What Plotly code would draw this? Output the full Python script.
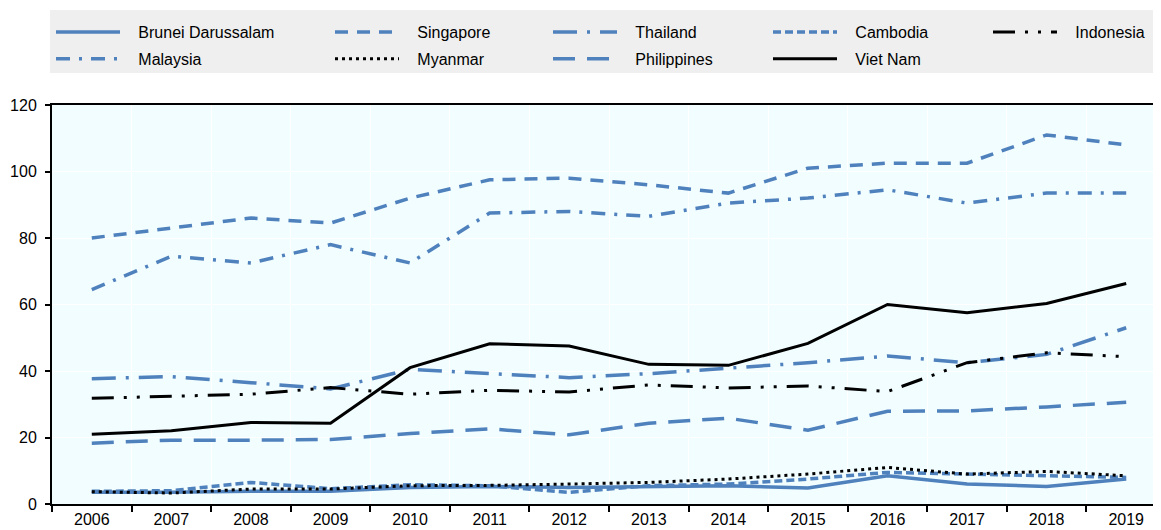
import plotly.graph_objects as go

years = [str(y) for y in range(2006, 2020)]

brunei = [3.5, 3.5, 3.8, 3.8, 5.0, 5.3, 5.0, 5.3, 5.5, 4.8, 8.5, 6.0, 5.3, 7.5]
malaysia = [64.5, 74.5, 72.5, 78.0, 72.5, 87.5, 88.0, 86.5, 90.5, 92.0, 94.5, 90.5, 93.5, 93.5]
singapore = [80.0, 83.0, 86.0, 84.5, 92.0, 97.5, 98.0, 96.0, 93.5, 101.0, 102.5, 102.5, 111.0, 108.0]
myanmar = [3.7, 3.3, 4.5, 4.5, 5.5, 5.6, 6.0, 6.5, 7.5, 9.0, 11.0, 9.0, 9.8, 8.5]
thailand = [37.7, 38.3, 36.5, 34.6, 40.5, 39.3, 38.0, 39.2, 40.8, 42.5, 44.5, 42.5, 45.0, 53.0]
philippines = [18.3, 19.2, 19.2, 19.4, 21.2, 22.6, 20.8, 24.3, 25.8, 22.2, 27.9, 28.0, 29.2, 30.6]
cambodia = [3.8, 4.0, 6.5, 4.6, 5.8, 5.5, 3.5, 5.5, 6.0, 7.5, 9.5, 9.0, 8.5, 8.0]
vietnam = [21.0, 22.0, 24.5, 24.3, 41.0, 48.2, 47.5, 42.0, 41.7, 48.3, 60.0, 57.5, 60.3, 66.3]
indonesia = [31.8, 32.3, 33.0, 35.0, 33.0, 34.2, 33.7, 35.8, 34.9, 35.5, 33.8, 42.5, 45.5, 44.3]

BLUE = "#4F81BD"
BLACK = "#000000"

series = [
    # name, values, color, dash, width, legend
    ("Brunei Darussalam", brunei, BLUE, "solid", 3.5, "legend"),
    ("Singapore", singapore, BLUE, "13px,9px", 3.5, "legend2"),
    ("Thailand", thailand, BLUE, "24px,10px,3px,10px", 3.5, "legend3"),
    ("Cambodia", cambodia, BLUE, "8px,4px", 3.5, "legend4"),
    ("Malaysia", malaysia, BLUE, "14px,9px,3px,9px", 3.5, "legend"),
    ("Philippines", philippines, BLUE, "22px,12px", 3.5, "legend3"),
    ("Myanmar", myanmar, BLACK, "3px,4px", 3, "legend2"),
    ("Viet Nam", vietnam, BLACK, "solid", 3, "legend4"),
    ("Indonesia", indonesia, BLACK, "22px,10px,3px,10px,3px,10px", 3, "legend5"),
]

rank = {"Brunei Darussalam": 1, "Malaysia": 2, "Singapore": 1, "Myanmar": 2,
        "Thailand": 1, "Philippines": 2, "Cambodia": 1, "Viet Nam": 2, "Indonesia": 1}

PAD = "\u00a0\u00a0\u00a0"

fig = go.Figure()
for name, vals, color, dash, width, leg in series:
    fig.add_trace(go.Scatter(
        x=years, y=vals, name=PAD + name, mode="lines",
        line=dict(color=color, dash=dash, width=width),
        legend=leg, legendgroup=name, legendrank=rank[name],
        hovertemplate=name + ": %{y}<extra></extra>",
    ))

FONT = "Liberation Sans Narrow, Arial Narrow, Liberation Sans, Arial, sans-serif"
W, H = 1161, 530
# page offset of the plot inside the browser window
L, R, T, B = 44, 3, 97, 34
PW = W - L - R
PH = H - T - B

legend_common = dict(
    orientation="v", bgcolor="rgba(0,0,0,0)", borderwidth=0,
    font=dict(family=FONT, size=16, color="#000"),
    xref="container", yref="container", xanchor="left", yanchor="top",
    tracegroupgap=3, itemwidth=64,
)
leg_x = [43, 322, 540, 760, 980]
leg_y = 1 - 7 / H

fig.update_layout(
    width=W, height=H,
    margin=dict(l=L, r=R, t=T, b=B, autoexpand=False),
    paper_bgcolor="white",
    plot_bgcolor="#F1FDFF",
    font=dict(family=FONT, size=16, color="#000"),
    showlegend=True,
    legend=dict(x=leg_x[0] / W, y=leg_y, **legend_common),
    legend2=dict(x=leg_x[1] / W, y=leg_y, **legend_common),
    legend3=dict(x=leg_x[2] / W, y=leg_y, **legend_common),
    legend4=dict(x=leg_x[3] / W, y=leg_y, **legend_common),
    legend5=dict(x=leg_x[4] / W, y=leg_y, **legend_common),
    xaxis=dict(
        type="category", range=[-0.5, 13.5],
        tickson="boundaries", ticks="outside", ticklen=6, tickwidth=2, tickcolor="#000",
        showgrid=True, gridcolor="white", gridwidth=1,
        showline=True, linecolor="#000", linewidth=2, mirror=True,
        tickfont=dict(family=FONT, size=16, color="#000"),
        fixedrange=True, automargin=False,
    ),
    yaxis=dict(
        range=[0, 120], tickvals=[0, 20, 40, 60, 80, 100, 120],
        ticks="outside", ticklen=5, tickwidth=1.5, tickcolor="#000",
        ticklabelstandoff=5,
        showgrid=True, gridcolor="white", gridwidth=1,
        showline=True, linecolor="#000", linewidth=2, mirror=True,
        zeroline=False,
        tickfont=dict(family=FONT, size=16, color="#000"),
        fixedrange=True, automargin=False,
    ),
    shapes=[dict(
        type="rect", xref="paper", yref="paper", layer="below",
        x0=(42 - L) / PW, x1=(W - L) / PW,
        y0=(H - B - 65) / PH, y1=(H - B - 2) / PH,
        fillcolor="#EFEFEF", line=dict(width=0),
    )],
)

fig.write_html("out.html")
